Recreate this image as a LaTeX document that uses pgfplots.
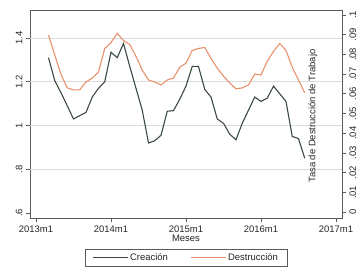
\documentclass[border=0pt]{standalone}
\usepackage{pgfplots}
\pgfplotsset{compat=1.18}
\usepackage{pgfplotstable}
\usepackage{fontspec}
\setmainfont{Liberation Sans}
\definecolor{crea}{HTML}{3A4A3C}
\definecolor{dest}{HTML}{E8916C}
\definecolor{axgray}{HTML}{5A5A5A}
\definecolor{gridc}{HTML}{DCDCDC}

\pgfplotstableread{
m v
2 1.31
3 1.205
4 1.15
5 1.09
6 1.03
7 1.045
8 1.06
9 1.13
10 1.17
11 1.20
12 1.335
13 1.31
14 1.375
15 1.27
16 1.17
17 1.07
18 0.92
19 0.93
20 0.955
21 1.065
22 1.068
23 1.12
24 1.18
25 1.27
26 1.27
27 1.165
28 1.13
29 1.03
30 1.01
31 0.96
32 0.935
33 1.01
34 1.07
35 1.13
36 1.11
37 1.125
38 1.18
39 1.145
40 1.11
41 0.95
42 0.94
43 0.85
}\creacion

\pgfplotstableread{
m v
2 0.0898
3 0.0797
4 0.0698
5 0.063
6 0.062
7 0.062
8 0.066
9 0.068
10 0.071
11 0.083
12 0.086
13 0.0907
14 0.087
15 0.085
16 0.079
17 0.072
18 0.067
19 0.066
20 0.0645
21 0.067
22 0.068
23 0.0735
24 0.0755
25 0.082
26 0.083
27 0.0835
28 0.078
29 0.073
30 0.069
31 0.0655
32 0.0625
33 0.063
34 0.0645
35 0.070
36 0.0695
37 0.0765
38 0.0815
39 0.0855
40 0.082
41 0.0735
42 0.067
43 0.0605
}\destruccion

\begin{document}
\begin{tikzpicture}[font=\fontsize{9.5}{11}\selectfont]
\pgfplotsset{every axis/.append style={
  scale only axis, width=312bp, height=208bp,
  xmin=-0.96, xmax=48.96,
  /pgf/number format/assume math mode=true,
  tick label style={font=\fontsize{9.5}{11}\selectfont, text=black!85},
  label style={font=\fontsize{9.5}{11}\selectfont, text=black!85},
  tick align=outside,
  major tick length=4bp,
  tick style={axgray, line width=0.6bp},
  axis line style={axgray, line width=0.7bp},
}}
\begin{axis}[
  name=main,
  ymin=0.577, ymax=1.528,
  ytick={0.6,0.8,1,1.2,1.4},
  yticklabels={.6,.8,1,1.2,1.4},
  yticklabel style={rotate=90, anchor=south},
  ytick pos=left,
  xtick={0,12,24,36,48},
  xticklabels={2013m1,2014m1,2015m1,2016m1,2017m1},
  xtick pos=bottom,
  xlabel={Meses},
  xlabel style={yshift=4bp},
  extra y ticks={0.8,1,1.2,1.4},
  extra y tick labels={},
  extra y tick style={grid=major, major tick length=0pt, grid style={gridc, line width=0.7bp}},
  legend style={at={(0.5,-0.192)}, anchor=center, legend columns=2,
    draw=axgray, line width=0.6bp, inner xsep=7bp, inner ysep=2bp,
    font=\fontsize{9.5}{11}\selectfont, text=black!85,
    /tikz/every even column/.append style={column sep=20bp}},
  legend image code/.code={\draw[#1] (0bp,0bp) -- (35bp,0bp);},
]
\addplot[crea, line width=1.1bp] table[x=m, y=v] {\creacion};
\addlegendentry{Creación}
\addlegendimage{dest, line width=1.1bp}
\addlegendentry{Destrucción}
\end{axis}
\begin{axis}[
  ymin=-0.003, ymax=0.1025,
  axis y line*=right,
  axis x line=none,
  ytick={0,0.01,0.02,0.03,0.04,0.05,0.06,0.07,0.08,0.09,0.1},
  yticklabels={0,.01,.02,.03,.04,.05,.06,.07,.08,.09,.1},
  yticklabel style={rotate=90, anchor=north},
]
\addplot[dest, line width=1.1bp] table[x=m, y=v] {\destruccion};
\node[rotate=90, text=black!85, font=\fontsize{9.5}{11}\selectfont] at (axis description cs:0.907,0.49) {Tasa de Destrucción de Trabajo};
\end{axis}
\pgfresetboundingbox
\path[use as bounding box] ([shift={(-30bp,-53bp)}]main.south west) rectangle ([shift={(15bp,10bp)}]main.north east);
\end{tikzpicture}
\end{document}
